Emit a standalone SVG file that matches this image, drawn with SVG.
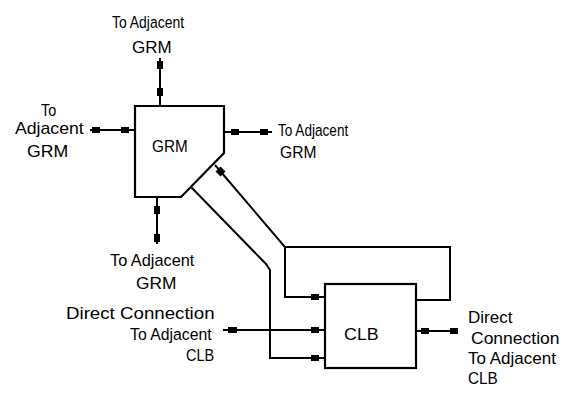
<svg xmlns="http://www.w3.org/2000/svg" width="562" height="393" viewBox="0 0 562 393">
<style>
.ln{stroke:#000;stroke-width:2;fill:none;stroke-linejoin:miter}
.bx{stroke:#000;stroke-width:2.2;fill:#fff}
.m{fill:#000}
text{font-family:"Liberation Sans",Arial,sans-serif;font-size:17px;fill:#000}
</style>
<rect width="562" height="393" fill="#fff"/>
<g id="connectors">
<!-- GRM top -->
<line class="ln" x1="160" y1="58" x2="160" y2="106"/>
<rect class="m" x="157" y="61" width="6" height="8"/>
<rect class="m" x="157" y="88" width="6" height="8"/>
<!-- GRM left -->
<line class="ln" x1="90" y1="130" x2="135" y2="130"/>
<rect class="m" x="92" y="127" width="8" height="6"/>
<rect class="m" x="121" y="127" width="8" height="6"/>
<!-- GRM right -->
<line class="ln" x1="224" y1="132" x2="272" y2="132"/>
<rect class="m" x="231" y="129" width="8" height="6"/>
<rect class="m" x="260" y="129" width="8" height="6"/>
<!-- GRM bottom -->
<line class="ln" x1="157" y1="197" x2="157" y2="244"/>
<rect class="m" x="154" y="206" width="6" height="8"/>
<rect class="m" x="154" y="234" width="6" height="8"/>
<!-- bus from GRM to CLB -->
<polyline class="ln" points="215,165 285,247 285,297 325,297"/>
<polyline class="ln" points="285,247 450,247 450,300 416,300"/>
<polyline class="ln" points="191,187 266,264 270,270 270,358 325,358"/>
<rect class="m" x="217" y="168" width="7" height="7" transform="rotate(45 220.5 171.5)"/>
<rect class="m" x="311" y="294" width="8" height="6"/>
<rect class="m" x="311" y="355" width="8" height="6"/>
<!-- direct connection in -->
<line class="ln" x1="223" y1="330" x2="325" y2="330"/>
<rect class="m" x="228" y="327" width="9" height="6"/>
<rect class="m" x="311" y="327" width="8" height="6"/>
<!-- direct connection out -->
<line class="ln" x1="416" y1="331" x2="458" y2="331"/>
<rect class="m" x="421" y="328" width="8" height="6"/>
<rect class="m" x="450" y="328" width="8" height="6"/>
</g>
<g id="grm">
<polygon class="bx" points="135,106 224,106 224,153 181,197 135,197"/>
<text transform="translate(152,152) scale(0.9,1)">GRM</text>
</g>
<g id="clb">
<rect class="bx" x="325" y="284" width="91" height="84"/>
<text transform="translate(344,340) scale(1.05,1)">CLB</text>
</g>
<g id="label-top">
<text transform="translate(112,28) scale(0.82,1)">To Adjacent</text>
<text transform="translate(132,53) scale(1,1)">GRM</text>
</g>
<g id="label-left">
<text transform="translate(41,116) scale(0.85,1)">To</text>
<text transform="translate(15,134) scale(1.04,1)">Adjacent</text>
<text transform="translate(27,157) scale(1.04,1)">GRM</text>
</g>
<g id="label-right">
<text transform="translate(278,136) scale(0.8,1)">To Adjacent</text>
<text transform="translate(280,158) scale(0.92,1)">GRM</text>
</g>
<g id="label-bottom">
<text transform="translate(110,266) scale(0.96,1)">To Adjacent</text>
<text transform="translate(136,289) scale(1.02,1)">GRM</text>
</g>
<g id="label-clb-in">
<text transform="translate(66,319) scale(1.1,1)">Direct Connection</text>
<text transform="translate(130,340) scale(0.93,1)">To Adjacent</text>
<text transform="translate(186,361) scale(0.85,1)">CLB</text>
</g>
<g id="label-clb-out">
<text transform="translate(468,323) scale(1,1)">Direct</text>
<text transform="translate(471,344) scale(1.03,1)">Connection</text>
<text transform="translate(468,364) scale(1,1)">To Adjacent</text>
<text transform="translate(468,384) scale(0.9,1)">CLB</text>
</g>
</svg>
